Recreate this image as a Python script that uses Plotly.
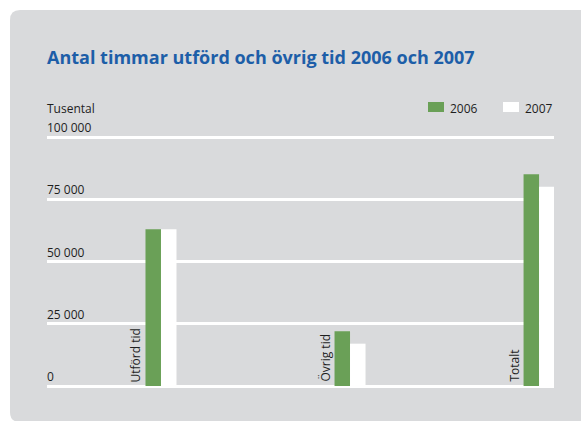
import plotly.graph_objects as go

categories = ["Utförd tid", "Övrig tid", "Totalt"]
values_2006 = [63000, 22000, 85000]
values_2007 = [63000, 17000, 80000]
series_names = ["2006", "2007"]
tick_values = [0, 25000, 50000, 75000, 100000]
tick_labels = ["0", "25 000", "50 000", "75 000", "100 000"]
title_text = "Antal timmar utförd och övrig tid 2006 och 2007"
unit_text = "Tusental"

GREEN = "#6aa057"
PANEL = "#d9dadc"
BLUE = "#1d5ea8"
TEXT = "#1e1e1e"
FONT = "Open Sans"

OFF = 0  # body margin removed via post_script
W, H = 581, 421
PAD = 4
L, R, T, B = 47, 554, 137 - PAD, 386 + PAD
YMIN = -100000 * PAD / 249
YMAX = 100000 + 100000 * PAD / 249


def px(x):
    return (x - L) / (R - L)


def py(y):
    return (B - y) / (B - T)


fig = go.Figure()
fig.add_trace(go.Bar(x=categories, y=values_2006, name=series_names[0],
                     marker=dict(color=GREEN, line=dict(width=0))))
fig.add_trace(go.Bar(x=categories, y=values_2007, name=series_names[1],
                     marker=dict(color="white", line=dict(width=0))))

shapes = []
r = 10
x0, x1, y0, y1 = 10, 600, 10, 422
path = (f"M {px(x0 + r)},{py(y0)} L {px(x1)},{py(y0)} L {px(x1)},{py(y1)} "
        f"L {px(x0 + r)},{py(y1)} Q {px(x0)},{py(y1)} {px(x0)},{py(y1 - r)} "
        f"L {px(x0)},{py(y0 + r)} Q {px(x0)},{py(y0)} {px(x0 + r)},{py(y0)} Z")
shapes.append(dict(type="path", xref="paper", yref="paper", path=path,
                   fillcolor=PANEL, line=dict(width=0), layer="below"))
shapes.append(dict(type="rect", xref="paper", yref="paper",
                   x0=px(428), x1=px(444), y0=py(112), y1=py(102),
                   fillcolor=GREEN, line=dict(width=0)))
shapes.append(dict(type="rect", xref="paper", yref="paper",
                   x0=px(503), x1=px(519), y0=py(112), y1=py(102),
                   fillcolor="white", line=dict(width=0)))

annotations = []
annotations.append(dict(text=f"<b>{title_text}</b>", xref="paper", yref="paper",
                        x=px(45), y=py(57), xanchor="left", yanchor="middle",
                        showarrow=False, font=dict(family=FONT, size=18, color=BLUE)))
annotations.append(dict(text=unit_text, xref="paper", yref="paper",
                        x=px(45), y=py(108.5), xanchor="left", yanchor="middle",
                        showarrow=False, font=dict(family=FONT, size=12, color=TEXT)))
annotations.append(dict(text=series_names[0], xref="paper", yref="paper",
                        x=px(448), y=py(108.5), xanchor="left", yanchor="middle",
                        showarrow=False, font=dict(family=FONT, size=12, color=TEXT)))
annotations.append(dict(text=series_names[1], xref="paper", yref="paper",
                        x=px(523), y=py(108.5), xanchor="left", yanchor="middle",
                        showarrow=False, font=dict(family=FONT, size=12, color=TEXT)))
for v, lab in zip(tick_values, tick_labels):
    annotations.append(dict(text=lab, xref="paper", yref="y", x=px(45), y=v,
                            xanchor="left", yanchor="bottom", yshift=-1,
                            showarrow=False,
                            font=dict(family=FONT, size=12, color=TEXT)))
for c in categories:
    annotations.append(dict(text=c, xref="x", yref="y", x=c, y=0,
                            xanchor="right", yanchor="bottom", textangle=-90,
                            xshift=-15, yshift=2, showarrow=False,
                            font=dict(family=FONT, size=12, color=TEXT)))

fig.update_layout(
    width=W, height=H,
    margin=dict(l=L - OFF, r=W - (R - OFF), t=T - OFF, b=H - (B - OFF), pad=0),
    paper_bgcolor="white", plot_bgcolor="rgba(0,0,0,0)",
    barmode="group", bargap=0.836, bargroupgap=0,
    showlegend=False,
    shapes=shapes, annotations=annotations,
    font=dict(family=FONT, size=12, color=TEXT),
    xaxis=dict(type="category", range=[-0.603, 2.079], showgrid=False,
               showticklabels=False, ticks="", zeroline=False, showline=False,
               fixedrange=True),
    yaxis=dict(range=[YMIN, YMAX], tickvals=tick_values, showticklabels=False,
               showgrid=True, gridcolor="white", gridwidth=3, zeroline=False,
               showline=False, ticks="", fixedrange=True),
)

fig.write_html(
    "out.html",
    config={"displayModeBar": False},
    post_script="document.body.style.margin='0';document.body.style.overflow='hidden';",
)
